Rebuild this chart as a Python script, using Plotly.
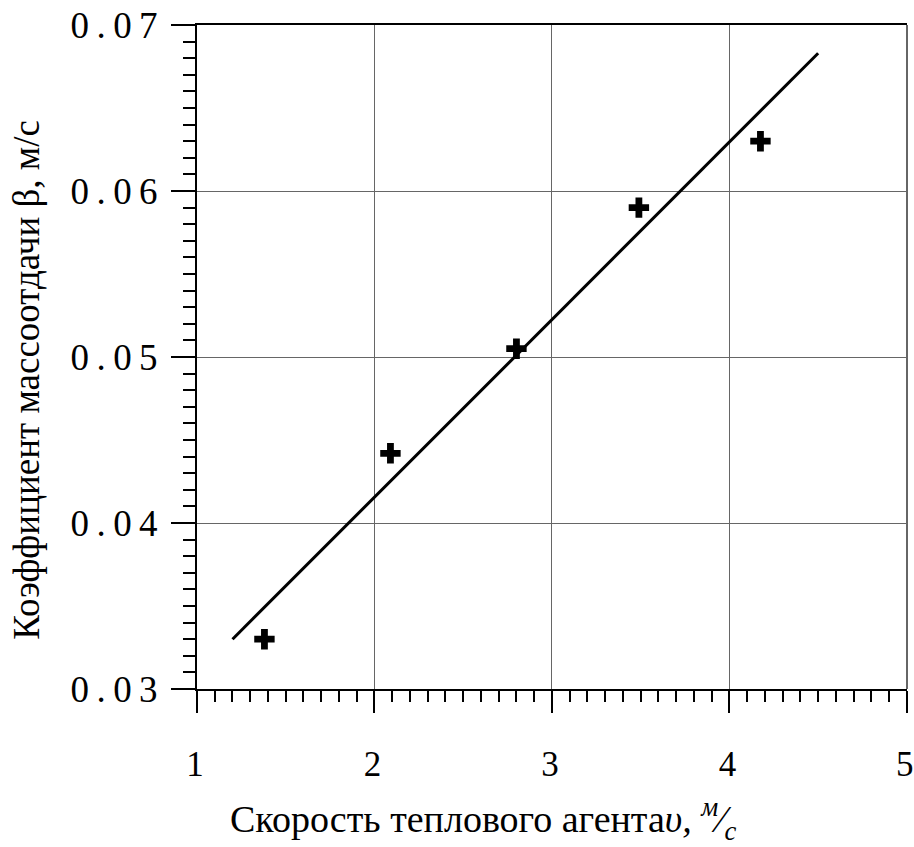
import plotly.graph_objects as go

# measured points
x_pts = [1.38, 2.09, 2.80, 3.49, 4.175]
y_pts = [0.0330, 0.0442, 0.0505, 0.0590, 0.0630]

# fitted line endpoints
x_fit = [1.20, 4.50]
y_fit = [0.0330, 0.0683]

y_ticks = [0.03, 0.04, 0.05, 0.06, 0.07]
y_ticklabels = ["0\u2009.\u20090\u20093", "0\u2009.\u20090\u20094", "0\u2009.\u20090\u20095",
                "0\u2009.\u20090\u20096", "0\u2009.\u20090\u20097"]
x_ticks = [1, 2, 3, 4, 5]
x_ticklabels = ["1", "2", "3", "4", "5"]

FONT = "Liberation Serif, Times New Roman, serif"

fig = go.Figure()
fig.add_trace(go.Scatter(x=x_fit, y=y_fit, mode="lines",
                         line=dict(color="black", width=3), showlegend=False))
fig.add_trace(go.Scatter(x=x_pts, y=y_pts, mode="markers",
                         marker=dict(symbol="cross", size=17, color="black",
                                     line=dict(width=0)), showlegend=False))

fig.update_layout(
    width=914, height=847,
    margin=dict(l=197, r=7, t=25, b=158),
    plot_bgcolor="white", paper_bgcolor="white",
    font=dict(family=FONT, color="black"),
)
fig.update_xaxes(
    range=[1, 5.0008], tickvals=x_ticks, ticktext=x_ticklabels,
    ticks="outside", ticklen=22, tickwidth=2, tickcolor="black",
    showline=True, linecolor="black", linewidth=2, mirror=True,
    showgrid=True, gridcolor="#666666", gridwidth=1,
    tickfont=dict(size=35, family=FONT), ticklabelstandoff=21,
    ticklabelshift=-2,
    ticklabeloverflow="allow", automargin=False,
    minor=dict(dtick=0.1, ticks="outside", ticklen=11, tickwidth=2,
               tickcolor="black", showgrid=False),
    zeroline=False,
)
fig.update_yaxes(
    range=[0.03, 0.07], tickvals=y_ticks, ticktext=y_ticklabels,
    ticks="outside", ticklen=24, tickwidth=2, tickcolor="black",
    showline=True, linecolor="black", linewidth=2,
    showgrid=True, gridcolor="#666666", gridwidth=1,
    tickfont=dict(size=37, family=FONT), ticklabelstandoff=6,
    automargin=False,
    minor=dict(dtick=0.001, ticks="outside", ticklen=12, tickwidth=2,
               tickcolor="black", showgrid=False),
    zeroline=False,
)

# right border (grey, like the grid)
fig.add_shape(type="line", xref="paper", yref="paper", x0=1, x1=1, y0=0, y1=1,
              line=dict(color="#666666", width=2))

fig.add_annotation(
    text="Скорость теплового агента<i>υ, <sup>м</sup>⁄<sub>с</sub></i>",
    xref="paper", yref="paper", x=0.044, y=-0.196, xanchor="left", yanchor="middle",
    showarrow=False, font=dict(size=38, family=FONT),
)
fig.add_annotation(
    text="Коэффициент массоотдачи β, м/с",
    xref="paper", yref="paper", x=-0.24, y=0.465, xanchor="center", yanchor="middle",
    textangle=-90, showarrow=False, font=dict(size=37, family=FONT),
)

fig.write_html("out.html")
